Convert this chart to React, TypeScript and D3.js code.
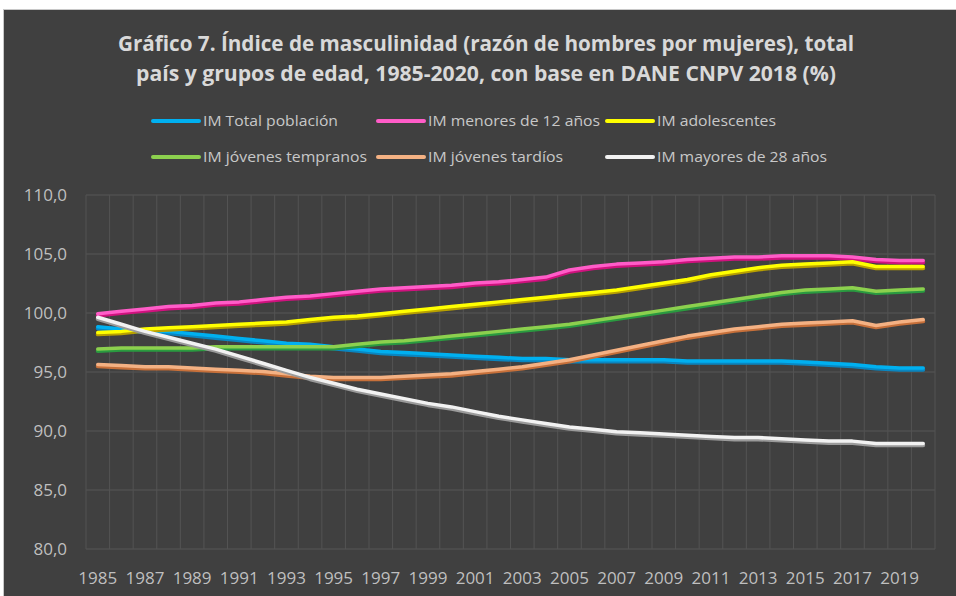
import React from 'react';
import * as d3 from 'd3';

// categories (years) and series
const years = [
  1985, 1986, 1987, 1988, 1989, 1990, 1991, 1992, 1993, 1994, 1995, 1996,
  1997, 1998, 1999, 2000, 2001, 2002, 2003, 2004, 2005, 2006, 2007, 2008,
  2009, 2010, 2011, 2012, 2013, 2014, 2015, 2016, 2017, 2018, 2019, 2020,
];

const imTotal = [
  98.8, 98.6, 98.5, 98.4, 98.2, 98.0, 97.8, 97.6, 97.4, 97.3, 97.1, 96.9,
  96.7, 96.6, 96.5, 96.4, 96.3, 96.2, 96.1, 96.1, 96.0, 96.0, 96.0, 96.0,
  96.0, 95.9, 95.9, 95.9, 95.9, 95.9, 95.8, 95.7, 95.6, 95.4, 95.3, 95.3,
];
const imMenores12 = [
  99.9, 100.1, 100.3, 100.5, 100.6, 100.8, 100.9, 101.1, 101.3, 101.4, 101.6, 101.8,
  102.0, 102.1, 102.2, 102.3, 102.5, 102.6, 102.8, 103.0, 103.6, 103.9, 104.1, 104.2,
  104.3, 104.5, 104.6, 104.7, 104.7, 104.8, 104.8, 104.8, 104.7, 104.5, 104.4, 104.4,
];
const imAdolescentes = [
  98.3, 98.4, 98.6, 98.7, 98.8, 98.9, 99.0, 99.1, 99.2, 99.4, 99.6, 99.7,
  99.9, 100.1, 100.3, 100.5, 100.7, 100.9, 101.1, 101.3, 101.5, 101.7, 101.9, 102.2,
  102.5, 102.8, 103.2, 103.5, 103.8, 104.0, 104.1, 104.2, 104.3, 103.9, 103.9, 103.9,
];
const imJovenesTempranos = [
  96.9, 97.0, 97.0, 97.0, 97.0, 97.1, 97.1, 97.1, 97.1, 97.1, 97.1, 97.3,
  97.5, 97.6, 97.8, 98.0, 98.2, 98.4, 98.6, 98.8, 99.0, 99.3, 99.6, 99.9,
  100.2, 100.5, 100.8, 101.1, 101.4, 101.7, 101.9, 102.0, 102.1, 101.8, 101.9, 102.0,
];
const imJovenesTardios = [
  95.6, 95.5, 95.4, 95.4, 95.3, 95.2, 95.1, 95.0, 94.8, 94.6, 94.5, 94.5,
  94.5, 94.6, 94.7, 94.8, 95.0, 95.2, 95.4, 95.7, 96.0, 96.4, 96.8, 97.2,
  97.6, 98.0, 98.3, 98.6, 98.8, 99.0, 99.1, 99.2, 99.3, 98.9, 99.2, 99.4,
];
const imMayores28 = [
  99.6, 99.0, 98.4, 97.9, 97.4, 96.9, 96.3, 95.7, 95.1, 94.5, 94.0, 93.5,
  93.1, 92.7, 92.3, 92.0, 91.6, 91.2, 90.9, 90.6, 90.3, 90.1, 89.9, 89.8,
  89.7, 89.6, 89.5, 89.4, 89.4, 89.3, 89.2, 89.1, 89.1, 88.9, 88.9, 88.9,
];

const seriesNames = [
  'IM Total población',
  'IM menores de 12 años',
  'IM adolescentes',
  'IM jóvenes tempranos',
  'IM jóvenes tardíos',
  'IM mayores de 28 años',
];
const yTicks = [80, 85, 90, 95, 100, 105, 110];
const titleLines = [
  'Gráfico 7. Índice de masculinidad (razón de hombres por mujeres), total',
  'país y grupos de edad, 1985-2020,  con base en DANE CNPV 2018 (%)',
];

const seriesValues = [imTotal, imMenores12, imAdolescentes, imJovenesTempranos, imJovenesTardios, imMayores28];
// main colour, darker lower edge
const colors = [
  ['#00B0F0', '#0A86C0'],
  ['#FF5CC8', '#D0127E'],
  ['#FFFF00', '#B8A000'],
  ['#8CD04E', '#2A9A40'],
  ['#F4B183', '#C7703A'],
  ['#F2F2F2', '#9A9A9A'],
];

const W = 956;
const H = 596;
const FONT = '"Open Sans", "DejaVu Sans", sans-serif';

export default function App() {
  const left = 86, right = 935, top = 195, bottom = 549;

  const x = d3.scaleBand<string>()
    .domain(years.map(String))
    .range([left, right])
    .padding(0);
  const cx = (yr: number) => (x(String(yr)) as number) + x.bandwidth() / 2;

  const y = d3.scaleLinear().domain([80, 110]).range([bottom, top]);

  const line = d3.line<number>()
    .x((_, i) => cx(years[i]))
    .y(d => y(d));

  // category boundaries for vertical gridlines
  const vGrid = years.map(yr => x(String(yr)) as number).concat([right]);

  const legendCols = [153, 378, 607];
  const legendRows = [121, 157];
  const legendWidths = [135, 172, 119, 164, 135, 170];

  return (
    <svg width={W} height={H} style={{ position: 'absolute', left: 0, top: 0 }} fontFamily={FONT}>
      <rect x={0} y={0} width={W} height={H} fill="#ffffff" />
      <rect x={3.5} y={9.5} width={W} height={H} fill="#404040" stroke="#C8C8C8" strokeWidth={1} />

      {/* title */}
      {titleLines.map((t, i) => (
        <text key={i} x={486} y={i === 0 ? 51 : 81} textAnchor="middle" fill="#D9D9D9"
          fontSize={20.5} fontWeight="bold"
          textLength={i === 0 ? 736 : 700} lengthAdjust="spacingAndGlyphs">{t}</text>
      ))}

      {/* legend */}
      {seriesNames.map((name, i) => {
        const lx = legendCols[i % 3];
        const ly = legendRows[Math.floor(i / 3)];
        return (
          <g key={name}>
            <line x1={lx} x2={lx + 46} y1={ly} y2={ly} stroke={colors[i][0]} strokeWidth={4} strokeLinecap="round" />
            <text x={lx + 50} y={ly + 5} fill="#C8C8C8" fontSize={14}
              textLength={legendWidths[i]} lengthAdjust="spacingAndGlyphs">{name}</text>
          </g>
        );
      })}

      {/* gridlines */}
      {yTicks.map(t => (
        <line key={'h' + t} x1={left} x2={right} y1={y(t)} y2={y(t)} stroke="#575757" strokeWidth={1} />
      ))}
      {vGrid.map((gx, i) => (
        <line key={'v' + i} x1={gx} x2={gx} y1={top} y2={bottom} stroke="#535353" strokeWidth={1} />
      ))}

      {/* y axis labels */}
      {yTicks.map(t => (
        <text key={'yl' + t} x={67} y={y(t)} dy="0.35em" textAnchor="end" fill="#BFBFBF" fontSize={17}>
          {t.toFixed(1).replace('.', ',')}
        </text>
      ))}

      {/* x axis labels */}
      {years.filter((_, i) => i % 2 === 0).map(yr => (
        <text key={'xl' + yr} x={cx(yr)} y={584} textAnchor="middle" fill="#BFBFBF" fontSize={17}>{yr}</text>
      ))}

      {/* series */}
      {seriesValues.map((vals, i) => (
        <g key={'s' + i}>
          <path d={line(vals) || ''} fill="none" stroke={colors[i][1]} strokeWidth={4}
            strokeLinejoin="round" strokeLinecap="round" transform="translate(0,1.3)" />
          <path d={line(vals) || ''} fill="none" stroke={colors[i][0]} strokeWidth={3.5}
            strokeLinejoin="round" strokeLinecap="round" transform="translate(0,-0.5)" />
        </g>
      ))}
    </svg>
  );
}
